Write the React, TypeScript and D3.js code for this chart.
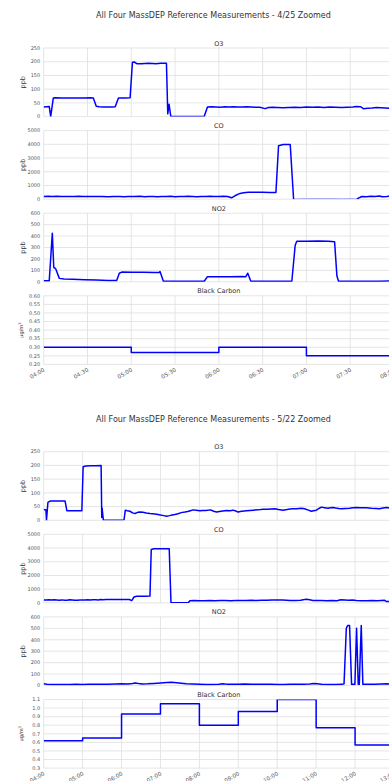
import React from "react";
import * as d3 from "d3";

// ---------- DATA (minutes after 04:00, value) ----------
const TITLE_1 = "All Four MassDEP Reference Measurements - 4/25 Zoomed";
const TITLE_2 = "All Four MassDEP Reference Measurements - 5/22 Zoomed";
const PANEL_TITLES = ["O3", "CO", "NO2", "Black Carbon"];

const TICKS_0425 = ["04:00", "04:30", "05:00", "05:30", "06:00", "06:30", "07:00", "07:30", "08:00"];
const TICKS_0522 = ["04:00", "05:00", "06:00", "07:00", "08:00", "09:00", "10:00", "11:00", "12:00", "13:00"];

const O3_0425: [number, number][] = [
  [0, 35], [2, 36], [3.8, 37], [4.8, 0], [6.6, 68], [8, 69], [12, 68], [16, 68], [20, 68], [24, 68], [28, 68],
  [32, 69], [34, 68], [36, 38], [38, 36], [41, 35], [44, 35], [47, 35], [49, 36], [51.2, 68], [53, 68], [56, 68],
  [59.2, 69], [60.8, 198], [62, 199], [63.8, 193], [67, 193], [72, 194], [77, 193], [80, 194], [84.1, 194],
  [85, 10], [85.9, 45], [87.1, 0], [95, 0], [105, 0], [110, 1], [112.2, 35], [115, 36], [118, 35], [121, 34],
  [124, 36], [127, 35], [130, 36], [133, 35], [136, 35], [139, 36], [142, 35], [145, 34], [148, 34], [151.7, 29],
  [154, 33], [157, 34], [160, 33], [164, 32], [168, 33], [172, 34], [176, 33], [180, 35], [184, 34], [188, 35],
  [192, 33], [196, 35], [200, 34], [204, 33], [208, 34], [212, 35], [214, 37], [217, 36], [219, 29], [222, 30],
  [225, 31], [228, 33], [231, 32], [234, 31], [237, 30], [240, 30],
];

const CO_0425: [number, number][] = [
  [0, 200], [3, 210], [6, 190], [9, 220], [12, 205], [15, 190], [18, 200], [21, 195], [24, 210], [27, 200],
  [30, 190], [33, 205], [36, 195], [40, 200], [44, 180], [48, 200], [52, 195], [55, 175], [58, 190], [62, 200],
  [66, 210], [69, 180], [72, 200], [75, 195], [78, 175], [81, 200], [84, 205], [87, 210], [90, 185], [93, 195],
  [96, 190], [99, 210], [102, 200], [105, 185], [108, 200], [111, 190], [114, 210], [117, 200], [120, 205],
  [123, 215], [126, 200], [128.7, 100], [131, 250], [134.5, 420], [137, 470], [140.3, 510], [145, 505],
  [150, 500], [155, 495], [159.1, 490], [160.9, 3900], [164, 3980], [168.9, 3990], [171.2, 0],
];
const CO_0425_SPARSE: [number, number][] = [
  [171.2, 0], [172, 10], [176, 30], [180, 25], [185, 40], [190, 30], [195, 35], [200, 30], [205, 20],
  [210, 35], [214.6, 20],
];
const CO_0425_END: [number, number][] = [
  [214.6, 20], [218, 200], [221, 180], [224, 210], [227, 190], [230, 240], [232, 180], [235, 200], [238, 230],
  [240, 190],
];

const NO2_0425: [number, number][] = [
  [0, 10], [3.8, 10], [5.9, 425], [6.9, 125], [8.2, 115], [10.7, 30], [14, 25], [20, 22], [28, 18], [36, 15],
  [44, 12], [50, 11], [51.8, 75], [53.5, 85], [60, 84], [68, 83], [76, 82], [79.2, 82], [79.7, 90], [82, 5],
  [90, 5], [100, 5], [110, 5], [112.2, 45], [120, 45], [128, 45], [136, 46], [138.5, 45], [139.8, 75],
  [141.9, 5], [150, 5], [160, 5], [170, 5], [172.3, 320], [173.4, 355], [180, 354], [188, 356], [195, 355],
  [199.3, 350], [200.9, 50], [202, 5], [215, 5], [230, 5], [237, 6], [240, 10],
];

const BC_0425_HOURS = [0, 60, 120, 180];
const BC_0425_VALUES = [0.30, 0.27, 0.30, 0.25];

const O3_0522: [number, number][] = [
  [0, 40], [2, 38], [3.4, 38], [4.3, 0], [6.5, 65], [10, 70], [15, 70], [20, 70], [25, 70], [30, 70], [33, 70],
  [35.7, 35], [40, 35], [45, 35], [50, 35], [55, 35], [58.8, 35], [60.8, 195], [65, 198], [72, 199], [80, 199],
  [88.5, 200], [89.5, 10], [90, 45], [92, 0], [100, 0], [110, 0], [120, 0], [123.8, 1], [125.8, 37], [129, 35],
  [133, 33], [137, 27], [140.8, 25], [145, 29], [148.5, 30], [153, 29], [158, 27], [163.8, 25], [168, 24],
  [174, 22], [180, 19], [185, 17], [189.5, 15], [194, 17], [198, 19], [202.3, 21], [207, 24], [212, 28],
  [217.7, 30], [222, 32], [226, 35], [230.5, 38], [235, 37], [240.8, 35], [245, 36], [250, 36], [257.2, 38],
  [262, 33], [266.5, 30], [271, 32], [276, 34], [281.8, 36], [287, 35], [292, 37], [296, 34], [299.7, 30],
  [305, 33], [312.6, 35], [318, 36], [322.8, 37], [330, 38], [338.2, 40], [345, 40], [350, 41], [356.2, 42],
  [362, 39], [368.9, 37], [375, 39], [380, 41], [384.3, 42], [390, 42], [397.2, 44], [402, 42], [407, 38],
  [412.6, 33], [416, 35], [420.3, 37], [425, 44], [428, 48], [433, 46], [438.2, 44], [442, 46], [445.8, 47],
  [450, 45], [455, 43], [458.8, 42], [465, 43], [471.5, 44], [477, 46], [481.8, 47], [488, 46], [497.2, 46],
  [505, 44], [512, 43], [517.7, 42], [523, 45], [528, 47], [535, 45], [540, 46],
];

const CO_0522: [number, number][] = [
  [0, 220], [4, 215], [8, 225], [12, 210], [16, 230], [20, 215], [24, 200], [28, 220], [32, 185], [36, 200],
  [40, 230], [44, 215], [48, 190], [52, 200], [56, 210], [60, 220], [64, 205], [68, 230], [72, 210], [76, 225],
  [80, 230], [84, 215], [88, 240], [92, 235], [96, 255], [100, 240], [104, 250], [108, 240], [112, 255],
  [116, 250], [120, 240], [124, 255], [128, 250], [132, 245], [135.7, 170], [139.2, 430], [143.4, 480],
  [150, 490], [157, 490], [163.8, 495], [165.8, 3900], [170, 3940], [180, 3950], [187, 3950], [193.5, 3940],
  [196.2, 20], [205, 10], [215, 10], [222.8, 5], [225.4, 150], [232, 170], [240, 160], [248, 165], [256, 170],
  [264, 160], [272, 170], [280, 175], [288, 165], [296, 180], [304, 175], [312, 170], [320, 190], [328, 175],
  [336, 185], [344, 200], [352, 205], [360, 210], [368, 220], [374, 200], [380, 175], [388, 180], [396, 190],
  [402, 240], [405, 270], [410, 230], [415, 180], [420, 170], [428, 175], [436, 150], [444, 170], [452, 160],
  [458, 230], [464, 220], [470, 200], [476, 210], [482, 170], [490, 165], [498, 160], [506, 170], [514, 155],
  [520, 180], [525, 200], [528, 110], [534, 100], [540, 95],
];

const NO2_0522: [number, number][] = [
  [0, 15], [5, 10], [10, 8], [20, 9], [30, 8], [40, 9], [50, 10], [60, 9], [70, 11], [80, 10], [90, 12],
  [100, 11], [110, 13], [120, 15], [130, 14], [137, 17], [141, 22], [146, 18], [152, 14], [160, 15], [170, 18],
  [180, 22], [190, 26], [197, 28], [205, 25], [212, 20], [220, 15], [230, 14], [240, 12], [250, 8], [260, 9],
  [270, 10], [276, 16], [282, 12], [290, 10], [300, 12], [310, 14], [320, 12], [330, 11], [340, 12], [350, 10],
  [360, 8], [370, 9], [380, 12], [390, 10], [400, 11], [410, 14], [416, 18], [422, 15], [428, 10], [440, 8],
  [450, 9], [460, 10], [463, 15], [466.5, 500], [468.5, 525], [471.5, 525], [474.6, 10], [479.7, 10],
  [482.3, 500], [484.9, 10], [486.5, 10], [489.5, 525], [492, 10], [500, 10], [510, 12], [520, 14], [530, 15],
  [540, 10],
];

const BC_0522_HOURS = [0, 60, 120, 180, 240, 300, 360, 420, 480];
const BC_0522_VALUES = [0.62, 0.65, 0.93, 1.05, 0.80, 0.96, 1.10, 0.77, 0.57];

// ---------- LAYOUT ----------
const W = 389;
const H = 781;
const L = 43.7;
const R = 394;
const PANEL_STEP = 82.6;
const PANEL_H = 68.6;
const FONT = "DejaVu Sans, sans-serif";
const LINE = "#0000ff";
const GRID = "#dedede";

function stepData(hours: number[], values: number[], end: number): [number, number][] {
  const out: [number, number][] = hours.map((h, i) => [h, values[i]] as [number, number]);
  out.push([end, values[values.length - 1]]);
  return out;
}

type Series = { data: [number, number][]; step?: boolean; faint?: boolean };
type Panel = {
  title: string;
  domain: [number, number];
  ticks: number[];
  fmt: (v: number) => string;
  ylabel: string;
  series: Series[];
};

function range(a: number, b: number, s: number) {
  const out: number[] = [];
  for (let v = a; v <= b + s / 1000; v += s) out.push(+v.toFixed(4));
  return out;
}

const ppbFmt = (v: number) => String(v);

function PanelView({ p, top, x, xTicks, xLabels, showX, idx }: any) {
  const y = d3.scaleLinear().domain(p.domain).range([top + PANEL_H, top]);
  const bottom = top + PANEL_H;
  const clipId = `clip-${idx}`;
  return (
    <g>
      <defs>
        <clipPath id={clipId}>
          <rect x={L} y={top} width={R - L} height={PANEL_H} />
        </clipPath>
      </defs>
      {p.ticks.map((t: number, i: number) => (
        <line key={"h" + i} x1={L} x2={R} y1={y(t)} y2={y(t)} stroke={GRID} strokeWidth={0.8} />
      ))}
      {xTicks.map((t: number, i: number) => (
        <line key={"v" + i} x1={x(t)} x2={x(t)} y1={top} y2={bottom} stroke={GRID} strokeWidth={0.8} />
      ))}
      <text x={(L + R) / 2} y={top - 2.5} fontSize={6.5} textAnchor="middle" fill="#333" fontFamily={FONT}>
        {p.title}
      </text>
      {p.ticks.map((t: number, i: number) => (
        <text key={"yt" + i} x={L - 3.5} y={y(t)} dy="0.35em" fontSize={5} textAnchor="end" fill="#555" fontFamily={FONT}>
          {p.fmt(t)}
        </text>
      ))}
      <text
        transform={`translate(${p.ylabel === "ppb" ? 24.5 : 23},${(top + bottom) / 2}) rotate(-90)`}
        fontSize={p.ylabel === "ppb" ? 6.5 : 5}
        textAnchor="middle"
        fill="#333"
        fontFamily={FONT}
      >
        {p.ylabel === "ppb" ? "ppb" : (<>μg/m<tspan dy="-2" fontSize={3.5}>3</tspan></>)}
      </text>
      <g clipPath={`url(#${clipId})`}>
        {p.series.map((s: Series, i: number) => {
          const gen = d3
            .line<[number, number]>()
            .x((d) => x(d[0]))
            .y((d) => y(d[1]))
            .curve(s.step ? d3.curveStepAfter : d3.curveLinear);
          return (
            <path
              key={i}
              d={gen(s.data) || ""}
              fill="none"
              stroke={LINE}
              strokeWidth={s.faint ? 0.9 : 1.5}
              strokeOpacity={s.faint ? 0.45 : 1}
              strokeLinejoin="round"
            />
          );
        })}
      </g>
      {showX &&
        xTicks.map((t: number, i: number) => (
          <text
            key={"xt" + i}
            transform={`translate(${x(t) + 1.5},${bottom + 6.5}) rotate(-30)`}
            fontSize={5.6}
            textAnchor="end"
            fill="#555"
            fontFamily={FONT}
          >
            {xLabels[i]}
          </text>
        ))}
    </g>
  );
}

export default function App() {
  const x1 = d3.scaleLinear().domain([0, 240]).range([L, R]);
  const x2 = d3.scaleLinear().domain([0, 540]).range([L, R]);
  const xt1 = TICKS_0425.map((_, i) => i * 30);
  const xt2 = TICKS_0522.map((_, i) => i * 60);

  const panels1: Panel[] = [
    { title: PANEL_TITLES[0], domain: [0, 250], ticks: range(0, 250, 50), fmt: ppbFmt, ylabel: "ppb", series: [{ data: O3_0425 }] },
    {
      title: PANEL_TITLES[1], domain: [0, 5000], ticks: range(0, 5000, 1000), fmt: ppbFmt, ylabel: "ppb",
      series: [{ data: CO_0425 }, { data: CO_0425_SPARSE, faint: true }, { data: CO_0425_END }],
    },
    { title: PANEL_TITLES[2], domain: [0, 600], ticks: range(0, 600, 100), fmt: ppbFmt, ylabel: "ppb", series: [{ data: NO2_0425 }] },
    {
      title: PANEL_TITLES[3], domain: [0.2, 0.6], ticks: range(0.2, 0.6, 0.05), fmt: d3.format(".2f"), ylabel: "ug",
      series: [{ data: stepData(BC_0425_HOURS, BC_0425_VALUES, 240), step: true }],
    },
  ];
  const panels2: Panel[] = [
    { title: PANEL_TITLES[0], domain: [0, 250], ticks: range(0, 250, 50), fmt: ppbFmt, ylabel: "ppb", series: [{ data: O3_0522 }] },
    { title: PANEL_TITLES[1], domain: [0, 5000], ticks: range(0, 5000, 1000), fmt: ppbFmt, ylabel: "ppb", series: [{ data: CO_0522 }] },
    { title: PANEL_TITLES[2], domain: [0, 600], ticks: range(0, 600, 100), fmt: ppbFmt, ylabel: "ppb", series: [{ data: NO2_0522 }] },
    {
      title: PANEL_TITLES[3], domain: [0.3, 1.1], ticks: range(0.3, 1.1, 0.1), fmt: d3.format(".1f"), ylabel: "ug",
      series: [{ data: stepData(BC_0522_HOURS, BC_0522_VALUES, 540), step: true }],
    },
  ];

  const top1 = 48;
  const top2 = 451.7;

  return (
    <div style={{ position: "absolute", left: 0, top: 0, width: W, height: H, overflow: "hidden", background: "#fff" }}>
      <svg width={W} height={H} style={{ display: "block" }}>
        <rect width={W} height={H} fill="#fff" />
        <text x={213.5} y={18} fontSize={8} textAnchor="middle" fill="#333" fontFamily={FONT}>
          {TITLE_1}
        </text>
        <text x={213.5} y={422} fontSize={8} textAnchor="middle" fill="#333" fontFamily={FONT}>
          {TITLE_2}
        </text>
        {panels1.map((p, i) => (
          <PanelView key={"a" + i} idx={"a" + i} p={p} top={top1 + i * PANEL_STEP} x={x1} xTicks={xt1} xLabels={TICKS_0425} showX={i === 3} />
        ))}
        {panels2.map((p, i) => (
          <PanelView key={"b" + i} idx={"b" + i} p={p} top={top2 + i * PANEL_STEP} x={x2} xTicks={xt2} xLabels={TICKS_0522} showX={i === 3} />
        ))}
      </svg>
    </div>
  );
}
